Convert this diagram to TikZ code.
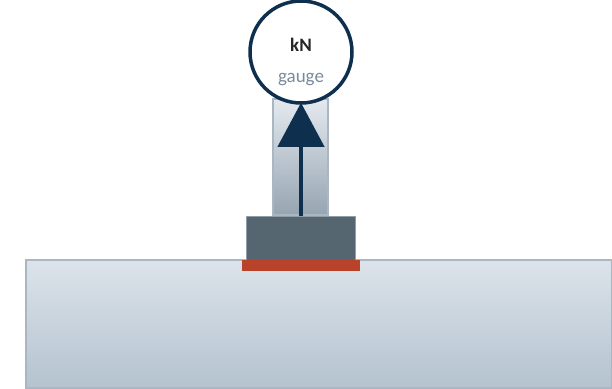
\documentclass[tikz,border=0pt]{standalone}
\usepackage{fontspec}
\setmainfont{Carlito}
\usepackage{xcolor}
\usepackage{tikz}
\usetikzlibrary{shapes,arrows.meta,positioning,calc}
\definecolor{gaugenavy}{RGB}{15,47,79}
\definecolor{gaugegrey}{RGB}{122,140,156}
\definecolor{blockslate}{RGB}{86,102,112}
\definecolor{padred}{RGB}{184,67,42}
\definecolor{edgegrey}{RGB}{170,182,193}
\definecolor{floortop}{RGB}{220,227,234}
\definecolor{floorbottom}{RGB}{180,195,207}
\definecolor{columntop}{RGB}{228,233,239}
\definecolor{columnbottom}{RGB}{150,165,178}

\begin{document}
\begin{tikzpicture}[x=1pt, y=-1pt, >=stealth]
  \tikzstyle{floorbox} = [rectangle, draw=edgegrey, line width=1.5pt, top color=floortop, bottom color=floorbottom, minimum width=586pt, minimum height=128pt, inner sep=0pt]
  \tikzstyle{padbox} = [rectangle, fill=padred, minimum width=118pt, minimum height=11pt, inner sep=0pt]
  \tikzstyle{blockbox} = [rectangle, draw=edgegrey!70!blockslate, line width=0.6pt, fill=blockslate, minimum width=109pt, minimum height=44pt, inner sep=0pt]
  \tikzstyle{columnbox} = [rectangle, draw=edgegrey, line width=1.5pt, top color=columntop, bottom color=columnbottom, minimum width=55pt, minimum height=116pt, inner sep=0pt]
  \tikzstyle{gaugedial} = [circle, draw=gaugenavy, line width=3.5pt, fill=white, minimum size=102pt, inner sep=0pt]
  \tikzstyle{forcearrow} = [-{Triangle[width=46pt,length=44pt]}, draw=gaugenavy, fill=gaugenavy, line width=4pt, shorten >=-2pt]

  \useasboundingbox (0,0) rectangle (612,388);

  \node[floorbox] (floor) at (319,324) {};
  \node[blockbox] (block) at (300.5,238) {};
  \node[padbox] (pad) at (301,265.5) {};
  \node[columnbox] (column) [above=0pt of block] {};
  \node[gaugedial] (gauge) at (301,52) {};

  % labels in the dial
  \node[font=\fontsize{19}{19}\selectfont\bfseries, text=black!85] (unit) at (301,45) {kN};
  \node[font=\fontsize{19}{19}\selectfont, text=gaugegrey] (name) [below=15pt of unit] {gauge};

  % force
  \draw[forcearrow] (gauge.south |- block.north) -- (gauge.south);
\end{tikzpicture}
\end{document}
